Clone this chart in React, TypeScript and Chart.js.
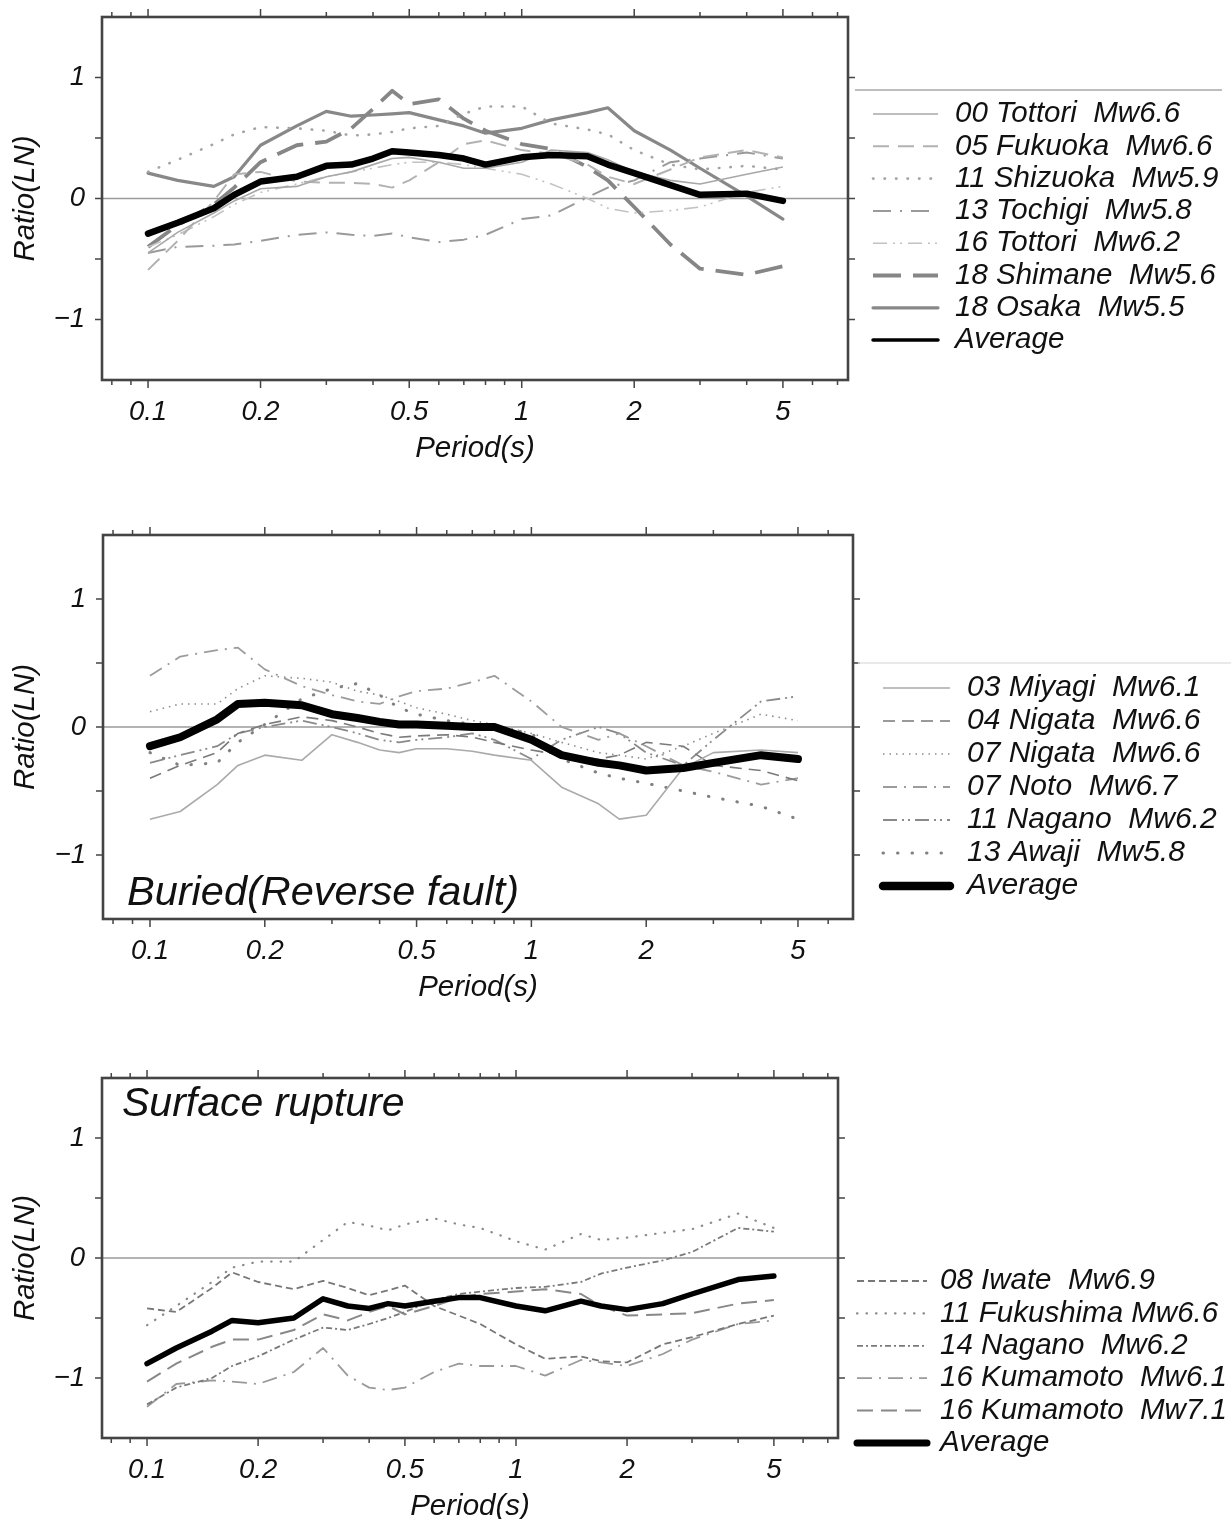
import React, { useEffect, useRef } from "react";
import { Chart, registerables } from "chart.js";

Chart.register(...registerables);

// ---------- shared axis data ----------
const PERIODS = [0.1, 0.12, 0.15, 0.17, 0.2, 0.25, 0.3, 0.35, 0.4, 0.45, 0.5, 0.6, 0.7, 0.8, 1.0, 1.2, 1.5, 1.7, 2.0, 2.5, 3.0, 4.0, 5.0];
const X_MAJOR_TICKS = [0.1, 0.2, 0.5, 1, 2, 5];
const X_TICK_LABELS = ["0.1", "0.2", "0.5", "1", "2", "5"];
const X_MINOR_TICKS = [0.08, 0.09, 0.3, 0.4, 0.6, 0.7, 0.8, 0.9, 3, 4, 6, 7];
const Y_TICKS = [-1, -0.5, 0, 0.5, 1];
const Y_TICK_VALUES = [1, 0, -1];
const Y_TICK_LABELS = ["1", "0", "\u22121"];
const X_TITLE = "Period(s)";
const Y_TITLE = "Ratio(LN)";

// ---------- panel 1 ----------
const P1_LABELS = [
  "00 Tottori  Mw6.6",
  "05 Fukuoka  Mw6.6",
  "11 Shizuoka  Mw5.9",
  "13 Tochigi  Mw5.8",
  "16 Tottori  Mw6.2",
  "18 Shimane  Mw5.6",
  "18 Osaka  Mw5.5",
  "Average",
];
const P1_TOTTORI00 = [-0.45, -0.28, -0.12, -0.02, 0.08, 0.1, 0.18, 0.22, 0.28, 0.33, 0.34, 0.3, 0.25, 0.25, 0.3, 0.4, 0.38, 0.32, 0.22, 0.15, 0.12, 0.2, 0.26];
const P1_FUKUOKA05 = [-0.59, -0.35, -0.02, 0.2, 0.22, 0.14, 0.13, 0.13, 0.12, 0.09, 0.15, 0.3, 0.45, 0.48, 0.4, 0.37, 0.28, 0.18, 0.12, 0.24, 0.34, 0.4, 0.34];
const P1_SHIZUOKA11 = [0.22, 0.32, 0.45, 0.53, 0.59, 0.58, 0.56, 0.52, 0.53, 0.55, 0.58, 0.6, 0.7, 0.76, 0.76, 0.62, 0.57, 0.53, 0.4, 0.28, 0.24, 0.27, 0.24];
const P1_TOCHIGI13 = [-0.45, -0.4, -0.39, -0.38, -0.35, -0.3, -0.28, -0.3, -0.31, -0.29, -0.32, -0.36, -0.34, -0.3, -0.17, -0.14, 0.01, 0.09, 0.15, 0.3, 0.33, 0.38, 0.33];
const P1_TOTTORI16 = [-0.4, -0.3, -0.15, -0.05, 0.05, 0.12, 0.18, 0.22, 0.25, 0.28, 0.3, 0.3, 0.28, 0.25, 0.2, 0.12, 0.0, -0.08, -0.12, -0.1, -0.07, 0.05, 0.1];
const P1_SHIMANE18 = [-0.4, -0.22, -0.05, 0.09, 0.3, 0.44, 0.47, 0.58, 0.74, 0.89, 0.78, 0.82, 0.66, 0.56, 0.45, 0.41, 0.26, 0.15, -0.07, -0.38, -0.58, -0.63, -0.56];
const P1_OSAKA18 = [0.21, 0.15, 0.1, 0.18, 0.44, 0.6, 0.72, 0.68, 0.69, 0.7, 0.71, 0.65, 0.6, 0.54, 0.58, 0.65, 0.71, 0.75, 0.56, 0.4, 0.25, 0.02, -0.17];
const P1_AVERAGE = [-0.29, -0.2, -0.08, 0.03, 0.14, 0.18, 0.27, 0.28, 0.33, 0.39, 0.38, 0.36, 0.33, 0.28, 0.34, 0.36, 0.35, 0.28, 0.21, 0.11, 0.03, 0.04, -0.02];

// ---------- panel 2 ----------
const P2_LABELS = [
  "03 Miyagi  Mw6.1",
  "04 Nigata  Mw6.6",
  "07 Nigata  Mw6.6",
  "07 Noto  Mw6.7",
  "11 Nagano  Mw6.2",
  "13 Awaji  Mw5.8",
  "Average",
];
const P2_NOTE = "Buried(Reverse fault)";
const P2_MIYAGI03 = [-0.72, -0.66, -0.45, -0.3, -0.22, -0.26, -0.06, -0.12, -0.18, -0.2, -0.17, -0.17, -0.19, -0.22, -0.26, -0.47, -0.6, -0.72, -0.69, -0.32, -0.2, -0.18, -0.2];
const P2_NIGATA04 = [-0.4, -0.3, -0.2, -0.05, 0.02, 0.08, 0.05, 0.0, -0.05, -0.08, -0.07, -0.06, -0.08, -0.12, -0.18, -0.22, -0.25, -0.22, -0.12, -0.15, -0.3, -0.34, -0.42];
const P2_NIGATA07 = [0.12, 0.18, 0.18, 0.3, 0.4, 0.38, 0.35, 0.28, 0.25, 0.2, 0.15, 0.1, 0.05, 0.02, -0.05, -0.12, -0.2, -0.22, -0.25, -0.15, -0.05, 0.1, 0.05];
const P2_NOTO07 = [0.4, 0.55, 0.6, 0.62, 0.45, 0.32, 0.25, 0.2, 0.18, 0.24, 0.28, 0.3, 0.35, 0.4, 0.2, 0.0, -0.1, -0.05, -0.15, -0.3, -0.35, -0.45, -0.4];
const P2_NAGANO11 = [-0.28, -0.22, -0.15, -0.05, 0.0, 0.05, 0.0, -0.05, -0.1, -0.12, -0.1, -0.08, -0.05, -0.1, -0.25, -0.1, 0.0, -0.05, -0.2, -0.3, -0.1, 0.2, 0.24];
const P2_AWAJI13 = [-0.2, -0.3, -0.28, -0.12, 0.02, 0.22, 0.3, 0.34, 0.25, 0.15, 0.1, 0.05, 0.02, 0.0, -0.05, -0.25, -0.36, -0.4, -0.44, -0.5, -0.55, -0.62, -0.72];
const P2_AVERAGE = [-0.15, -0.08, 0.06, 0.18, 0.19, 0.17, 0.1, 0.07, 0.04, 0.02, 0.02, 0.01, 0.0, 0.0, -0.1, -0.22, -0.28, -0.3, -0.34, -0.32, -0.28, -0.22, -0.25];

// ---------- panel 3 ----------
const P3_LABELS = [
  "08 Iwate  Mw6.9",
  "11 Fukushima Mw6.6",
  "14 Nagano  Mw6.2",
  "16 Kumamoto  Mw6.1",
  "16 Kumamoto  Mw7.1",
  "Average",
];
const P3_NOTE = "Surface rupture";
const P3_IWATE08 = [-0.42, -0.45, -0.25, -0.12, -0.2, -0.26, -0.19, -0.25, -0.31, -0.27, -0.23, -0.4, -0.48, -0.55, -0.72, -0.84, -0.82, -0.86, -0.87, -0.72, -0.66, -0.55, -0.48];
const P3_FUKUSHIMA11 = [-0.56, -0.4, -0.2, -0.08, -0.03, -0.03, 0.15, 0.3, 0.27, 0.23, 0.28, 0.33, 0.28, 0.25, 0.14, 0.07, 0.2, 0.15, 0.17, 0.21, 0.24, 0.37, 0.25];
const P3_NAGANO14 = [-1.22, -1.08, -1.0, -0.9, -0.82, -0.68, -0.58, -0.6, -0.55, -0.5, -0.45, -0.35, -0.3, -0.28, -0.25, -0.24, -0.2, -0.13, -0.08, -0.02, 0.05, 0.25, 0.22];
const P3_KUMAMOTO61 = [-1.24, -1.05, -1.02, -1.03, -1.05, -0.95, -0.75, -0.98, -1.08, -1.1, -1.08, -0.95, -0.88, -0.9, -0.9, -0.98, -0.85, -0.87, -0.9, -0.8, -0.68, -0.55, -0.52];
const P3_KUMAMOTO71 = [-1.03, -0.88, -0.74, -0.68, -0.68, -0.6, -0.47, -0.52, -0.45, -0.4, -0.47, -0.4, -0.33, -0.3, -0.28, -0.26, -0.3, -0.4, -0.48, -0.47, -0.46, -0.38, -0.35];
const P3_AVERAGE = [-0.88, -0.75, -0.61, -0.52, -0.54, -0.5, -0.34, -0.4, -0.42, -0.38, -0.4, -0.36, -0.33, -0.33, -0.4, -0.44, -0.36, -0.4, -0.43, -0.38, -0.3, -0.18, -0.15];

// ---------- types ----------
type Series = {
  label: string;
  values: number[];
  color: string;
  width: number;
  dash: number[];
  cap: CanvasLineCap;
  legendWidth?: number;
  isAverage?: boolean;
};

type Panel = {
  canvasTop: number;
  canvasHeight: number;
  left: number;
  top: number;
  right: number;
  bottom: number;
  xMin: number;
  xMax: number;
  series: Series[];
  legend: { x0: number; x1: number; textX: number; y0: number; pitch: number; font: number };
  frameLine?: { x0: number; x1: number; y: number; color: string; width: number };
  note?: { text: string; x: number; y: number; font: number };
};

const FONT_FAMILY = "'Liberation Sans', Arial, Helvetica, sans-serif";
const TEXT_COLOR = "#111111";

const PANELS: Panel[] = [
  {
    canvasTop: 0,
    canvasHeight: 480,
    left: 102,
    top: 17,
    right: 848,
    bottom: 380,
    xMin: 0.0753,
    xMax: 7.467,
    series: [
      { label: P1_LABELS[0], values: P1_TOTTORI00, color: "#a8a8a8", width: 1.6, dash: [], cap: "butt" },
      { label: P1_LABELS[1], values: P1_FUKUOKA05, color: "#b2b2b2", width: 2, dash: [16, 9], cap: "butt" },
      { label: P1_LABELS[2], values: P1_SHIZUOKA11, color: "#a4a4a4", width: 2.6, dash: [0.5, 11], cap: "round" },
      { label: P1_LABELS[3], values: P1_TOCHIGI13, color: "#9a9a9a", width: 2, dash: [18, 9, 2, 9], cap: "butt" },
      { label: P1_LABELS[4], values: P1_TOTTORI16, color: "#c2c2c2", width: 1.6, dash: [14, 6, 2, 5, 2, 6], cap: "butt" },
      { label: P1_LABELS[5], values: P1_SHIMANE18, color: "#868686", width: 3.8, dash: [28, 12], cap: "butt" },
      { label: P1_LABELS[6], values: P1_OSAKA18, color: "#888888", width: 3.2, dash: [], cap: "round" },
      { label: P1_LABELS[7], values: P1_AVERAGE, color: "#000000", width: 6.5, dash: [], cap: "round", legendWidth: 3.5, isAverage: true },
    ],
    legend: { x0: 873, x1: 938, textX: 955, y0: 114, pitch: 32.3, font: 29.5 },
    frameLine: { x0: 855, x1: 1222, y: 90, color: "#bdbdbd", width: 2 },
  },
  {
    canvasTop: 480,
    canvasHeight: 540,
    left: 103,
    top: 535,
    right: 853,
    bottom: 919,
    xMin: 0.0753,
    xMax: 6.97,
    series: [
      { label: P2_LABELS[0], values: P2_MIYAGI03, color: "#aaaaaa", width: 1.6, dash: [], cap: "butt" },
      { label: P2_LABELS[1], values: P2_NIGATA04, color: "#7a7a7a", width: 1.6, dash: [12, 7], cap: "butt" },
      { label: P2_LABELS[2], values: P2_NIGATA07, color: "#8c8c8c", width: 1.6, dash: [1.5, 5], cap: "butt" },
      { label: P2_LABELS[3], values: P2_NOTO07, color: "#9c9c9c", width: 1.8, dash: [14, 7, 2, 7], cap: "butt" },
      { label: P2_LABELS[4], values: P2_NAGANO11, color: "#8a8a8a", width: 1.8, dash: [14, 5, 2, 4, 2, 5], cap: "butt" },
      { label: P2_LABELS[5], values: P2_AWAJI13, color: "#808080", width: 3, dash: [0.5, 14], cap: "round" },
      { label: P2_LABELS[6], values: P2_AVERAGE, color: "#000000", width: 8, dash: [], cap: "round", legendWidth: 8.5, isAverage: true },
    ],
    legend: { x0: 883, x1: 950, textX: 967, y0: 688, pitch: 33, font: 30 },
    frameLine: { x0: 858, x1: 1231, y: 663, color: "#e2e2e2", width: 1.5 },
    note: { text: P2_NOTE, x: 127, y: 893, font: 41.5 },
  },
  {
    canvasTop: 1020,
    canvasHeight: 499,
    left: 102,
    top: 1078,
    right: 838,
    bottom: 1438,
    xMin: 0.0755,
    xMax: 7.46,
    series: [
      { label: P3_LABELS[0], values: P3_IWATE08, color: "#777777", width: 1.8, dash: [7, 4], cap: "butt" },
      { label: P3_LABELS[1], values: P3_FUKUSHIMA11, color: "#8a8a8a", width: 2.2, dash: [0.5, 9], cap: "round" },
      { label: P3_LABELS[2], values: P3_NAGANO14, color: "#7a7a7a", width: 1.8, dash: [6, 3, 2, 3], cap: "butt" },
      { label: P3_LABELS[3], values: P3_KUMAMOTO61, color: "#999999", width: 1.8, dash: [15, 7, 2, 7], cap: "butt" },
      { label: P3_LABELS[4], values: P3_KUMAMOTO71, color: "#888888", width: 2, dash: [16, 8], cap: "butt" },
      { label: P3_LABELS[5], values: P3_AVERAGE, color: "#000000", width: 5.5, dash: [], cap: "round", legendWidth: 7, isAverage: true },
    ],
    legend: { x0: 857, x1: 927, textX: 940, y0: 1281, pitch: 32.4, font: 29.5 },
    note: { text: P3_NOTE, x: 122, y: 1105, font: 41 },
  },
];

function makePlugin(panel: Panel) {
  const off = panel.canvasTop;
  return {
    id: "gmtFrame",
    beforeDatasetsDraw(chart: any) {
      const ctx: CanvasRenderingContext2D = chart.ctx;
      const { left, right } = chart.chartArea;
      const y0 = chart.scales.y.getPixelForValue(0);
      ctx.save();
      ctx.strokeStyle = "#9a9a9a";
      ctx.lineWidth = 1.3;
      ctx.beginPath();
      ctx.moveTo(left, y0);
      ctx.lineTo(right, y0);
      ctx.stroke();
      ctx.restore();
    },
    afterDatasetsDraw(chart: any) {
      const ctx: CanvasRenderingContext2D = chart.ctx;
      const { left, right, top, bottom } = chart.chartArea;
      const xs = chart.scales.x;
      const ys = chart.scales.y;
      ctx.save();
      // frame
      ctx.strokeStyle = "#444";
      ctx.lineWidth = 2.6;
      ctx.setLineDash([]);
      ctx.strokeRect(left, top, right - left, bottom - top);
      // x ticks
      ctx.lineWidth = 1.5;
      const drawXTick = (v: number, len: number) => {
        const px = xs.getPixelForValue(v);
        if (px < left - 0.5 || px > right + 0.5) return;
        ctx.beginPath();
        ctx.moveTo(px, bottom);
        ctx.lineTo(px, bottom + len);
        ctx.moveTo(px, top);
        ctx.lineTo(px, top - len);
        ctx.stroke();
      };
      X_MAJOR_TICKS.forEach((v) => drawXTick(v, 8));
      X_MINOR_TICKS.forEach((v) => drawXTick(v, 5));
      Y_TICKS.forEach((v) => {
        const py = ys.getPixelForValue(v);
        ctx.beginPath();
        ctx.moveTo(left, py);
        ctx.lineTo(left - 7, py);
        ctx.moveTo(right, py);
        ctx.lineTo(right + 7, py);
        ctx.stroke();
      });
      // tick labels
      ctx.fillStyle = TEXT_COLOR;
      ctx.font = `italic 27.5px ${FONT_FAMILY}`;
      ctx.textAlign = "center";
      ctx.textBaseline = "middle";
      X_MAJOR_TICKS.forEach((v, i) => {
        ctx.fillText(X_TICK_LABELS[i], xs.getPixelForValue(v), bottom + 32);
      });
      ctx.textAlign = "right";
      Y_TICK_VALUES.forEach((v, i) => {
        ctx.fillText(Y_TICK_LABELS[i], left - 17, ys.getPixelForValue(v));
      });
      // titles
      ctx.font = `italic 29.5px ${FONT_FAMILY}`;
      ctx.textAlign = "center";
      ctx.fillText(X_TITLE, (left + right) / 2, bottom + 69);
      ctx.save();
      ctx.translate(26, (top + bottom) / 2);
      ctx.rotate(-Math.PI / 2);
      ctx.fillText(Y_TITLE, 0, 0);
      ctx.restore();
      // note
      if (panel.note) {
        ctx.font = `italic ${panel.note.font}px ${FONT_FAMILY}`;
        ctx.textAlign = "left";
        ctx.fillStyle = TEXT_COLOR;
        ctx.fillText(panel.note.text, panel.note.x, panel.note.y - off);
      }
      // legend frame line
      if (panel.frameLine) {
        const f = panel.frameLine;
        ctx.strokeStyle = f.color;
        ctx.lineWidth = f.width;
        ctx.beginPath();
        ctx.moveTo(f.x0, f.y - off);
        ctx.lineTo(f.x1, f.y - off);
        ctx.stroke();
      }
      // legend
      const lg = panel.legend;
      panel.series.forEach((s, i) => {
        const y = lg.y0 + i * lg.pitch - off;
        ctx.save();
        ctx.strokeStyle = s.color;
        ctx.lineWidth = s.legendWidth ?? s.width;
        ctx.lineCap = s.cap;
        ctx.setLineDash(s.dash);
        ctx.beginPath();
        ctx.moveTo(lg.x0, y);
        ctx.lineTo(lg.x1, y);
        ctx.stroke();
        ctx.restore();
        ctx.fillStyle = TEXT_COLOR;
        ctx.font = `italic ${lg.font}px ${FONT_FAMILY}`;
        ctx.textAlign = "left";
        ctx.textBaseline = "middle";
        ctx.fillText(s.label, lg.textX, y);
      });
      ctx.restore();
    },
  };
}

function PanelChart({ panel }: { panel: Panel }) {
  const ref = useRef<HTMLCanvasElement | null>(null);
  useEffect(() => {
    const canvas = ref.current;
    if (!canvas) return;
    const datasets = panel.series.map((s) => ({
      label: s.label,
      data: PERIODS.map((p, i) => ({ x: p, y: s.values[i] })),
      borderColor: s.color,
      backgroundColor: s.color,
      borderWidth: s.width,
      borderDash: s.dash,
      borderCapStyle: s.cap,
      borderJoinStyle: "round" as CanvasLineJoin,
      pointRadius: 0,
      tension: 0,
      fill: false,
      order: s.isAverage ? 0 : 1,
    }));
    const chart = new Chart(canvas, {
      type: "line",
      data: { datasets },
      options: {
        responsive: false,
        maintainAspectRatio: false,
        animation: false,
        devicePixelRatio: 1,
        layout: {
          padding: {
            left: panel.left,
            top: panel.top - panel.canvasTop,
            right: 1231 - panel.right,
            bottom: panel.canvasTop + panel.canvasHeight - panel.bottom,
          },
        },
        plugins: { legend: { display: false }, tooltip: { enabled: false }, title: { display: false } },
        scales: {
          x: { type: "logarithmic", min: panel.xMin, max: panel.xMax, display: false },
          y: { type: "linear", min: -1.5, max: 1.5, display: false },
        },
      },
      plugins: [makePlugin(panel)],
    } as any);
    return () => chart.destroy();
  }, [panel]);
  return (
    <canvas
      ref={ref}
      width={1231}
      height={panel.canvasHeight}
      style={{ position: "absolute", left: 0, top: panel.canvasTop, width: 1231, height: panel.canvasHeight }}
    />
  );
}

export default function App() {
  return (
    <div style={{ position: "absolute", left: 0, top: 0, width: 1231, height: 1519, background: "#fff", overflow: "hidden" }}>
      {PANELS.map((p, i) => (
        <PanelChart key={i} panel={p} />
      ))}
    </div>
  );
}
